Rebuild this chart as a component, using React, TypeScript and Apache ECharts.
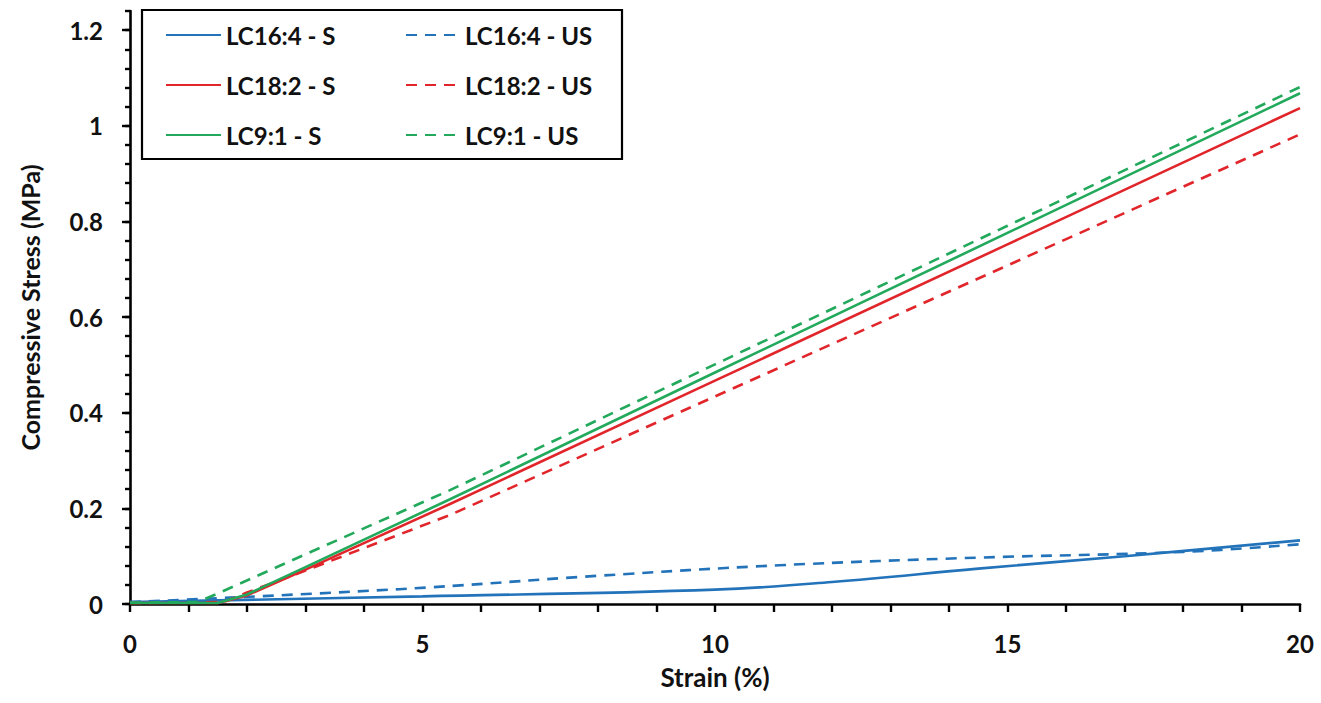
import React, { useEffect, useRef } from "react";
import * as echarts from "echarts";

// Strain (%) and compressive stress (MPa)
const lc164S: [number, number][] = [
  [0, 0.004], [5, 0.016], [10, 0.03], [12, 0.046], [14.5, 0.074],
  [17, 0.1], [20, 0.133],
];
const lc164US: [number, number][] = [
  [0, 0.004], [4.6, 0.031], [8, 0.059], [11.1, 0.081], [14.5, 0.097],
  [18, 0.109], [20, 0.125],
];
const lc182S: [number, number][] = [
  [0, 0.002], [1.5, 0.002], [2, 0.018], [3, 0.072], [5.47, 0.209],
  [10, 0.467], [15, 0.752], [20, 1.037],
];
const lc182US: [number, number][] = [
  [0, 0.002], [1.6, 0.004], [2, 0.024], [3, 0.07], [5.47, 0.186],
  [10, 0.434], [15, 0.708], [20, 0.982],
];
const lc91S: [number, number][] = [
  [0, 0.002], [1.5, 0.002], [2, 0.02], [3, 0.077], [5.47, 0.219],
  [10, 0.484], [15, 0.776], [20, 1.068],
];
const lc91US: [number, number][] = [
  [0, 0.003], [1.15, 0.004], [1.5, 0.022], [3, 0.104], [5.47, 0.238],
  [10, 0.501], [15, 0.791], [20, 1.081],
];

const xTickLabels = [0, 5, 10, 15, 20];
const yTickLabels = [0, 0.2, 0.4, 0.6, 0.8, 1, 1.2];

const BLUE = "#2373BA";
const RED = "#E1262B";
const GREEN = "#22A95C";
const FONT = "Lato";

export default function App() {
  const ref = useRef<HTMLDivElement>(null);
  useEffect(() => {
    if (!ref.current) return;
    const chart = echarts.init(ref.current, undefined, { renderer: "svg" });
    const labelStyle = { fontFamily: FONT, fontWeight: "bold" as const, fontSize: 24, color: "#111" };
    const mk = (name: string, data: [number, number][], color: string, dashed: boolean, smooth = false) => ({
      name,
      type: "line",
      data,
      showSymbol: false,
      symbol: "none",
      smooth: smooth ? 0.4 : false,
      color,
      lineStyle: { color, width: 2.6, type: dashed ? [11, 8] : "solid" },
      z: 3,
    });
    const legendBase = {
      orient: "vertical",
      top: 23,
      padding: 0,
      itemHeight: 24,
      itemGap: 26,
      selectedMode: false,
      itemStyle: { opacity: 0 },
      textStyle: { ...labelStyle },
      z: 5,
    };
    chart.setOption({
      animation: false,
      backgroundColor: "#fff",
      grid: { left: 130, right: 21, top: 11, bottom: 99, containLabel: false },
      xAxis: {
        type: "value",
        min: 0,
        max: 20,
        interval: 1,
        name: "Strain (%)",
        nameLocation: "middle",
        nameGap: 60,
        nameTextStyle: { ...labelStyle, fontSize: 26 },
        axisLine: { lineStyle: { color: "#000", width: 2.6 } },
        axisTick: { length: 8, lineStyle: { color: "#000", width: 2.4 } },
        axisLabel: {
          ...labelStyle,
          margin: 27,
          formatter: (v: number) => (xTickLabels.includes(v) ? String(v) : ""),
        },
        splitLine: { show: false },
      },
      yAxis: [
        {
          type: "value",
          min: 0,
          max: 1.24,
          interval: 0.04,
          name: "Compressive Stress (MPa)",
          nameLocation: "middle",
          nameGap: 88,
          nameRotate: 90,
          nameTextStyle: { ...labelStyle, fontSize: 25 },
          axisLine: { show: true, lineStyle: { color: "#000", width: 2.6 } },
          axisTick: { show: true, length: 5, lineStyle: { color: "#000", width: 2.4 } },
          axisLabel: { show: false },
          splitLine: { show: false },
        },
        {
          type: "value",
          min: 0,
          max: 1.24,
          interval: 0.2,
          position: "left",
          axisLine: { show: false },
          axisTick: { show: true, length: 8, lineStyle: { color: "#000", width: 2.4 } },
          axisLabel: {
            ...labelStyle,
            margin: 27,
            showMaxLabel: false,
            formatter: (v: number) => {
              const m = yTickLabels.find((t) => Math.abs(t - v) < 1e-6);
              return m === undefined ? "" : String(m);
            },
          },
          splitLine: { show: false },
        },
      ],
      legend: [
        {
          ...legendBase,
          data: ["LC16:4 - S", "LC18:2 - S", "LC9:1 - S"],
          left: 165,
          itemWidth: 55,
        },
        {
          ...legendBase,
          data: ["LC16:4 - US", "LC18:2 - US", "LC9:1 - US"],
          left: 405,
          itemWidth: 54,
        },
      ],
      graphic: [
        {
          type: "rect",
          z: 4,
          shape: { x: 142, y: 10, width: 480, height: 149 },
          style: { fill: "#fff", stroke: "#000", lineWidth: 2.2 },
        },
      ],
      series: [
        mk("LC16:4 - S", lc164S, BLUE, false, true),
        mk("LC16:4 - US", lc164US, BLUE, true, true),
        mk("LC18:2 - S", lc182S, RED, false),
        mk("LC18:2 - US", lc182US, RED, true),
        mk("LC9:1 - S", lc91S, GREEN, false),
        mk("LC9:1 - US", lc91US, GREEN, true),
      ],
    });
    return () => chart.dispose();
  }, []);
  return (
    <div
      ref={ref}
      style={{ position: "fixed", left: 0, top: 0, width: 1321, height: 703 }}
    />
  );
}
